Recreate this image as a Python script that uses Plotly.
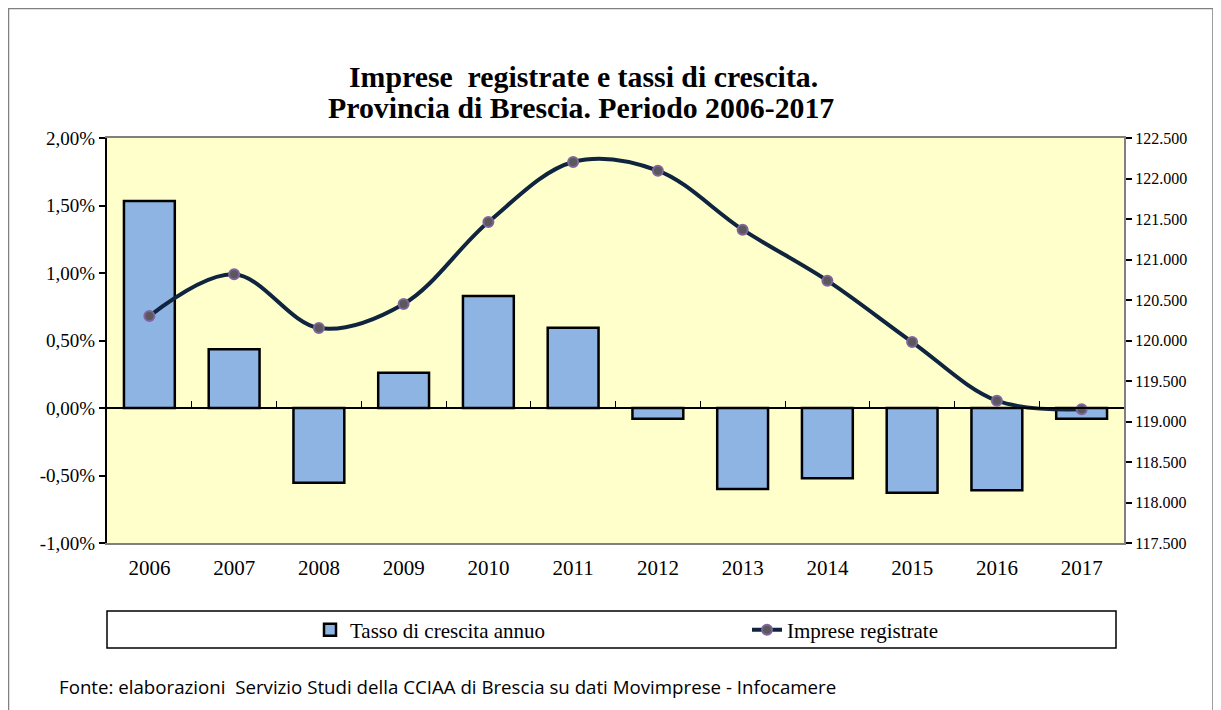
import plotly.graph_objects as go

years = ["2006", "2007", "2008", "2009", "2010", "2011", "2012", "2013", "2014", "2015", "2016", "2017"]
tasso = [0.01533, 0.00435, -0.00553, 0.00262, 0.0083, 0.00595, -0.00079, -0.0060, -0.0052, -0.00627, -0.0061, -0.0008]
imprese = [120302, 120817, 120154, 120451, 121463, 122204, 122097, 121368, 120739, 119981, 119257, 119150]

left_ticks = [-0.01, -0.005, 0, 0.005, 0.01, 0.015, 0.02]
left_labels = ["-1,00%", "-0,50%", "0,00%", "0,50%", "1,00%", "1,50%", "2,00%"]
right_ticks = [117500, 118000, 118500, 119000, 119500, 120000, 120500, 121000, 121500, 122000, 122500]

xpos = list(range(len(years)))
boundaries = [i + 0.5 for i in range(len(years) - 1)]

SERIF = "Liberation Serif, Times New Roman, serif"

# plot area in page pixels (page has 8px body margin)
PL, PR, PT, PB = 107, 1124, 138, 543
PW, PH = PR - PL, PB - PT


def px(x):
    return (x - PL) / PW


def py(y):
    return (PB - y) / PH


fig = go.Figure()
fig.add_trace(go.Bar(
    x=xpos, y=tasso, name="Tasso di crescita annuo", width=0.6,
    marker=dict(color="#8EB4E3", line=dict(color="black", width=2.5)),
    yaxis="y", xaxis="x",
))
fig.add_trace(go.Scatter(
    x=xpos, y=imprese, name="Imprese registrate", mode="lines+markers",
    line=dict(color="#0F243E", width=4, shape="spline", smoothing=1.0),
    marker=dict(size=10, color="#595959", line=dict(color="#8064A2", width=2)),
    yaxis="y2", xaxis="x",
))
# invisible trace to hold the zero-line category axis
fig.add_trace(go.Scatter(x=[xpos[0]], y=[0], xaxis="x2", yaxis="y", mode="markers",
                         marker=dict(opacity=0), showlegend=False, hoverinfo="skip"))

zero_pos = (0 - left_ticks[0]) / (left_ticks[-1] - left_ticks[0])

fig.update_layout(
    width=1213, height=702,
    margin=dict(l=PL - 8, r=1221 - PR, t=PT - 8, b=710 - PB),
    paper_bgcolor="white",
    plot_bgcolor="#FFFFCC",
    separators=",.",
    xaxis=dict(
        range=[-0.5, len(years) - 0.5], tickvals=xpos, ticktext=years,
        showline=True, linecolor="#808080", linewidth=2, mirror=True,
        ticks="outside", ticklen=5, tickcolor="rgba(0,0,0,0)", showgrid=False, zeroline=False,
        tickfont=dict(family=SERIF, size=21, color="black"),
    ),
    xaxis2=dict(
        range=[-0.5, len(years) - 0.5], overlaying="x", anchor="free", position=zero_pos,
        side="top", tickvals=boundaries, showticklabels=False, ticks="outside", ticklen=6,
        tickcolor="black", tickwidth=1, showline=True, linecolor="black", linewidth=2,
        showgrid=False, zeroline=False,
    ),
    yaxis=dict(
        range=[left_ticks[0], left_ticks[-1]], tickvals=left_ticks, ticktext=left_labels,
        showline=True, linecolor="black", linewidth=2, ticks="outside", ticklen=6,
        tickcolor="black", tickwidth=2, showgrid=False, zeroline=False,
        tickfont=dict(family=SERIF, size=19, color="black"),
    ),
    yaxis2=dict(
        range=[right_ticks[0], right_ticks[-1]], tickvals=right_ticks, tickformat=",d",
        overlaying="y", side="right", showline=True, linecolor="#808080", linewidth=2,
        ticks="outside", ticklen=6, tickcolor="black", tickwidth=2,
        showgrid=False, zeroline=False,
        tickfont=dict(family=SERIF, size=16, color="black"),
    ),
    showlegend=True,
    legend=dict(
        orientation="h", x=px(310), xanchor="left", y=py(630), yanchor="middle",
        entrywidth=392, entrywidthmode="pixels",
        font=dict(family=SERIF, size=21, color="black"),
        bgcolor="rgba(0,0,0,0)", borderwidth=0,
    ),
    shapes=[
        dict(type="rect", xref="paper", yref="paper",
             x0=px(8.5), x1=px(1213), y0=py(730), y1=py(8.5),
             line=dict(color="#808080", width=1.5), fillcolor="rgba(0,0,0,0)", layer="below"),
        dict(type="rect", xref="paper", yref="paper",
             x0=px(107), x1=px(1116), y0=py(648), y1=py(611),
             line=dict(color="black", width=1.5), fillcolor="rgba(0,0,0,0)", layer="below"),
    ],
    annotations=[
        dict(text="<b>Imprese  registrate e tassi di crescita.</b>",
             xref="paper", yref="paper", x=px(583), y=py(76), xanchor="center", yanchor="middle",
             showarrow=False, font=dict(family=SERIF, size=29.8, color="black")),
        dict(text="<b>Provincia di Brescia. Periodo 2006-2017</b>",
             xref="paper", yref="paper", x=px(581), y=py(108), xanchor="center", yanchor="middle",
             showarrow=False, font=dict(family=SERIF, size=29.8, color="black")),
        dict(text="Fonte: elaborazioni  Servizio Studi della CCIAA di Brescia su dati Movimprese - Infocamere",
             xref="paper", yref="paper", x=px(57), y=py(686),
             xanchor="left", yanchor="middle", showarrow=False,
             font=dict(family="Open Sans, sans-serif", size=18.7, color="black")),
    ],
)

fig.write_html("out.html")
